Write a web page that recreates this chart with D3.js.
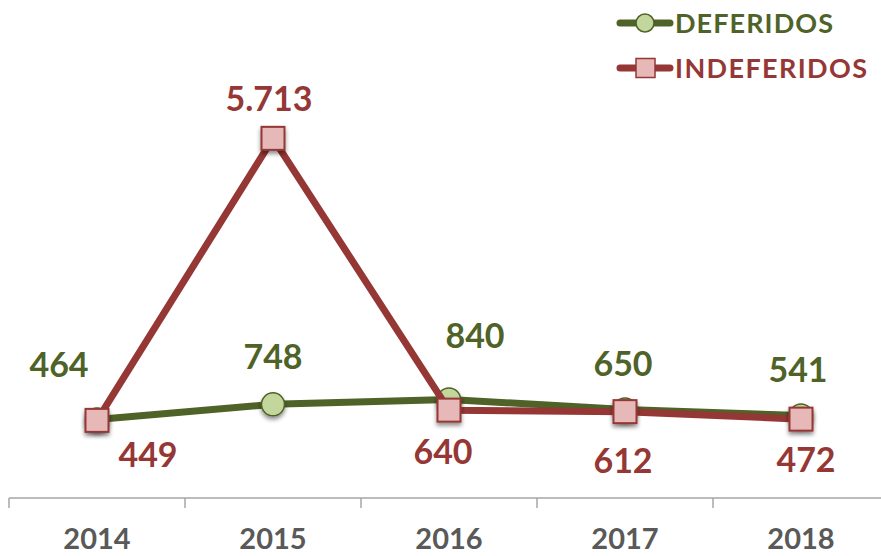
<!DOCTYPE html>
<html><head><meta charset="utf-8">
<script src="https://cdn.jsdelivr.net/npm/d3@7"></script>
<style>
html,body{margin:0;padding:0;background:#fff;}
svg{display:block;font-family:Lato,"Open Sans",sans-serif;font-weight:bold;}
</style></head>
<body>
<svg id="chart" width="881" height="556"></svg>
<script>
const years = ["2014","2015","2016","2017","2018"];
const deferidos = [464, 748, 840, 650, 541];
const indeferidos = [449, 5713, 640, 612, 472];
const deferidosLabels = ["464","748","840","650","541"];
const indeferidosLabels = ["449","5.713","640","612","472"];
const seriesNames = ["DEFERIDOS","INDEFERIDOS"];
// label offsets (px) from each point to the label centre
const deferidosOffsets = [[-38,-55],[0,-47],[26,-63],[-2,-46],[-3,-45]];
const indeferidosOffsets = [[51,35],[-4,-39],[-6,42],[-2,49],[5,41]];

const GREEN = "#4F6228", GREEN_FILL = "#C3D69B";
const RED = "#953735", RED_FILL = "#E6B9B8";

const svg = d3.select("#chart");
const defs = svg.append("defs");
const f = defs.append("filter").attr("id","shadow").attr("x","-50%").attr("y","-50%").attr("width","200%").attr("height","200%");
f.append("feDropShadow").attr("dx",0).attr("dy",3).attr("stdDeviation",2).attr("flood-color","#000").attr("flood-opacity",0.45);

const x = d3.scaleBand().domain(years).range([9, 889]).padding(0);
const y = d3.scaleLinear().domain([-1000, 7000]).range([498, 69.4]);
const cx = d => x(d) + x.bandwidth()/2;

// axis
const gx = svg.append("g").attr("transform","translate(0,498)");
gx.append("line").attr("x1",9).attr("x2",889).attr("y1",0).attr("y2",0).attr("stroke","#A6A6A6").attr("stroke-width",1.5);
years.concat(["end"]).forEach((yr,i)=>{
  const xx = i < years.length ? x(yr) : x(years[years.length-1]) + x.bandwidth();
  gx.append("line").attr("x1",xx).attr("x2",xx).attr("y1",0).attr("y2",10).attr("stroke","#A6A6A6").attr("stroke-width",1.5);
});
gx.selectAll(".lbl").data(years).enter().append("text")
  .attr("x", d=>cx(d)).attr("y", 51).attr("text-anchor","middle")
  .attr("fill","#595959").attr("font-size","29px").text(d=>d);

const line = d3.line().x(d=>cx(d.yr)).y(d=>y(d.v));

function drawSeries(vals, color, fill, shape) {
  const data = years.map((yr,i)=>({yr, v: vals[i]}));
  svg.append("path").datum(data).attr("d", line).attr("fill","none")
    .attr("stroke", color).attr("stroke-width", 7).attr("stroke-linejoin","round");
  const g = svg.append("g").attr("filter","url(#shadow)");
  if (shape === "circle") {
    g.selectAll("circle").data(data).enter().append("circle")
      .attr("cx", d=>cx(d.yr)).attr("cy", d=>y(d.v)).attr("r", 11.5)
      .attr("fill", fill).attr("stroke", color).attr("stroke-width", 1.5);
  } else {
    g.selectAll("rect").data(data).enter().append("rect")
      .attr("x", d=>cx(d.yr)-11.5).attr("y", d=>y(d.v)-11.5).attr("width",23).attr("height",23)
      .attr("fill", fill).attr("stroke", color).attr("stroke-width", 2);
  }
}
drawSeries(deferidos, GREEN, GREEN_FILL, "circle");
drawSeries(indeferidos, RED, RED_FILL, "square");

function drawLabels(vals, labels, offsets, color) {
  svg.append("g").selectAll("text").data(vals).enter().append("text")
    .attr("x", (d,i)=>cx(years[i]) + offsets[i][0])
    .attr("y", (d,i)=>y(d) + offsets[i][1] + 12)
    .attr("text-anchor","middle").attr("font-size","34px").attr("fill", color)
    .text((d,i)=>labels[i]);
}
drawLabels(deferidos, deferidosLabels, deferidosOffsets, GREEN);
drawLabels(indeferidos, indeferidosLabels, indeferidosOffsets, RED);

// legend
const legend = svg.append("g");
const legItems = [
  {name: seriesNames[0], color: GREEN, fill: GREEN_FILL, shape:"circle", yy: 23, len: 158},
  {name: seriesNames[1], color: RED, fill: RED_FILL, shape:"square", yy: 68, len: 192}
];
legItems.forEach(it=>{
  legend.append("line").attr("x1",620).attr("x2",670).attr("y1",it.yy).attr("y2",it.yy)
    .attr("stroke",it.color).attr("stroke-width",7).attr("stroke-linecap","round");
  if (it.shape === "circle") {
    legend.append("circle").attr("cx",645).attr("cy",it.yy).attr("r",9)
      .attr("fill",it.fill).attr("stroke",it.color).attr("stroke-width",1.5);
  } else {
    legend.append("rect").attr("x",636).attr("y",it.yy-9.5).attr("width",19).attr("height",19)
      .attr("fill",it.fill).attr("stroke",it.color).attr("stroke-width",1.5);
  }
  legend.append("text").attr("x",675).attr("y",it.yy+10).attr("font-size","27px")
    .attr("fill",it.color).attr("textLength", it.len).attr("lengthAdjust","spacing").text(it.name);
});
</script>
</body></html>
